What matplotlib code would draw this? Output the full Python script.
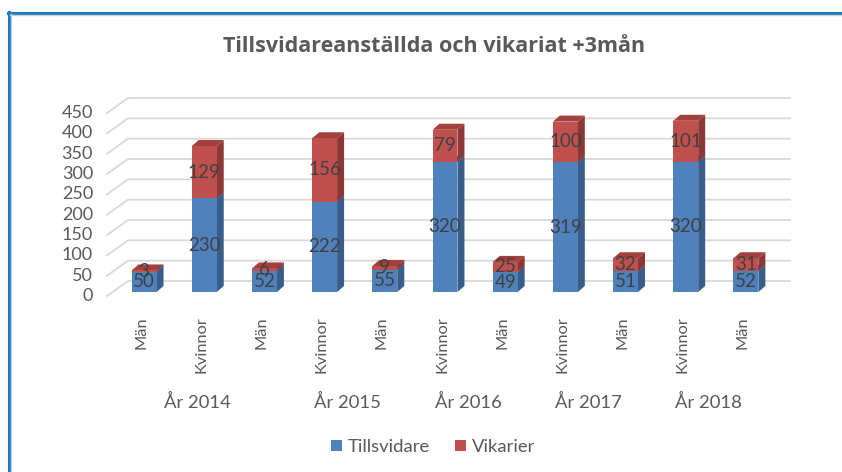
import matplotlib.pyplot as plt
from matplotlib.patches import Polygon, Patch
from matplotlib.lines import Line2D
from matplotlib.transforms import IdentityTransform, offset_copy

plt.rcParams['font.family'] = ['Lato', 'DejaVu Sans']

kategorier = ['Män', 'Kvinnor', 'Män', 'Kvinnor', 'Män', 'Kvinnor',
              'Män', 'Kvinnor', 'Män', 'Kvinnor', 'Män']
tillsvidare = [50, 230, 52, 222, 55, 320, 49, 319, 51, 320, 52]
vikarier = [3, 129, 6, 156, 9, 79, 25, 100, 32, 101, 31]
ar = ['År 2014', 'År 2015', 'År 2016', 'År 2017', 'År 2018']
ar_antal = [3, 2, 2, 2, 2]
y_ticks = list(range(0, 451, 50))

BLA = '#4F81BD'
BLA_SIDA = '#385D8A'
BLA_TOPP = '#3E6A9E'
ROD = '#C0504D'
ROD_SIDA = '#8C3836'
ROD_TOPP = '#A33F3C'
GRID = '#D9D9D9'
TEXT = '#595959'

W, H = 842, 472
fig = plt.figure(figsize=(W / 100, H / 100), dpi=100)

# front plane of the pseudo-3D box, in pixels from the top-left corner
left, right, y_noll, y_topp = 107, 769, 296, 113
ax = fig.add_axes([left / W, 1 - y_noll / H, (right - left) / W, (y_noll - y_topp) / H])
n = len(kategorier)
ax.set_xlim(-0.5, n - 0.5)
ax.set_ylim(0, 450)
ax.axis('off')

VAGG = (21, 15)      # depth of the back wall
BAR_POS = (7, 4)     # bar front face behind the front plane
BAR_DJUP = (7, 6)    # depth of each bar
halv = 0.207         # half bar width in category units


def px(x, y, d=(0, 0)):
    X, Y = ax.transData.transform((x, y))
    return (X + d[0], Y + d[1])


def add(d1, d2):
    return (d1[0] + d2[0], d1[1] + d2[1])


# gridlines on the back wall and the diagonals on the left side wall
for v in y_ticks:
    a = px(-0.5, v)
    b = px(-0.5, v, VAGG)
    c = px(n - 0.5, v, VAGG)
    ax.add_line(Line2D([a[0], b[0], c[0]], [a[1], b[1], c[1]], color=GRID, lw=1.3,
                       transform=IdentityTransform(), clip_on=False, zorder=1))
    ax.text(-0.5, v, str(v), ha='right', va='center', fontsize=13, color=TEXT,
            transform=offset_copy(ax.transData, fig, x=-14, y=0, units='dots'))

# stacked bars drawn as front, side and top faces
bak = add(BAR_POS, BAR_DJUP)
for i in range(n):
    b = tillsvidare[i]
    t = b + vikarier[i]
    for lo, hi, fc, sc, tc, val in [(0, b, BLA, BLA_SIDA, BLA_TOPP, tillsvidare[i]),
                                    (b, t, ROD, ROD_SIDA, ROD_TOPP, vikarier[i])]:
        front = [px(i - halv, lo, BAR_POS), px(i + halv, lo, BAR_POS),
                 px(i + halv, hi, BAR_POS), px(i - halv, hi, BAR_POS)]
        side = [px(i + halv, lo, BAR_POS), px(i + halv, lo, bak),
                px(i + halv, hi, bak), px(i + halv, hi, BAR_POS)]
        top = [px(i - halv, hi, BAR_POS), px(i + halv, hi, BAR_POS),
               px(i + halv, hi, bak), px(i - halv, hi, bak)]
        for poly, col in [(side, sc), (top, tc), (front, fc)]:
            ax.add_patch(Polygon(poly, closed=True, fc=col, ec='none',
                                 transform=IdentityTransform(), clip_on=False, zorder=2))
        ax.text(i, (lo + hi) / 2, str(val), ha='center', va='center', fontsize=13.5,
                color='#404040', zorder=3,
                transform=offset_copy(ax.transData, fig, x=BAR_POS[0], y=BAR_POS[1], units='dots'))

# category labels and year groups
for i, k in enumerate(kategorier):
    ax.text(i, 0, k, rotation=90, ha='center', va='top', fontsize=11.8, color=TEXT,
            transform=offset_copy(ax.transData, fig, x=4, y=-20, units='dots'))
start = 0
for namn, antal in zip(ar, ar_antal):
    mitt = start + (antal - 1) / 2
    ax.text(mitt, 0, namn, ha='center', va='center', fontsize=13.3, color=TEXT,
            transform=offset_copy(ax.transData, fig, x=0, y=-106, units='dots'))
    start += antal

fig.text(434 / W, 1 - 47 / H, 'Tillsvidareanställda och vikariat +3mån', ha='center',
         va='center', fontsize=15.5, fontweight='bold', color=TEXT,
         family=['Open Sans', 'DejaVu Sans'])

fig.legend(handles=[Patch(fc=BLA), Patch(fc=ROD)], labels=['Tillsvidare', 'Vikarier'],
           loc='center', bbox_to_anchor=(433 / W, 1 - 447 / H), ncol=2, frameon=False,
           fontsize=13.3, handlelength=0.6, handleheight=0.6, handletextpad=0.3,
           columnspacing=1.4, labelcolor=TEXT)

# chart frame along the top and left edges
fig.add_artist(Line2D([8 / W, 1], [1 - 12.5 / H] * 2, color='#1A7DC2', lw=2.2))
fig.add_artist(Line2D([9 / W] * 2, [0, 1 - 12 / H], color='#1A7DC2', lw=2.2))
fig.add_artist(Line2D([10 / W, 1], [1 - 14.5 / H] * 2, color='#D0D0D0', lw=1))
fig.add_artist(Line2D([11 / W] * 2, [0, 1 - 14 / H], color='#D0D0D0', lw=1))

fig.savefig('out.png', dpi=100)
